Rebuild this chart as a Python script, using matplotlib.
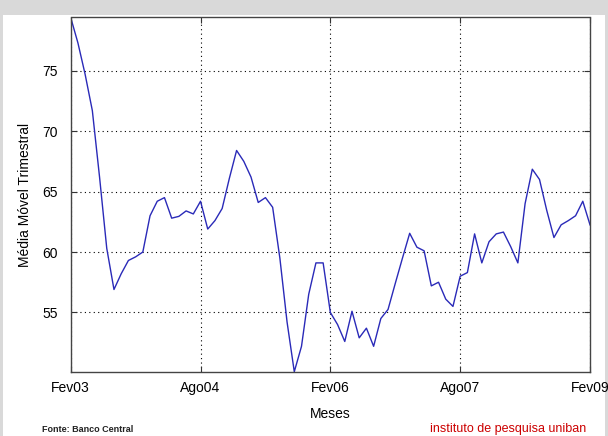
import matplotlib
matplotlib.use("Agg")
import matplotlib.pyplot as plt
from matplotlib.patches import Rectangle
from matplotlib import font_manager

months = list(range(73))  # Fev03 .. Fev09, monthly
values = [79.4, 77.3, 74.7, 71.7, 66.2, 60.3, 56.9, 58.2, 59.3, 59.6,
          60.0, 63.0, 64.2, 64.5, 62.8, 62.95, 63.4, 63.15, 64.2, 61.9,
          62.6, 63.6, 66.1, 68.4, 67.5, 66.2, 64.1, 64.5, 63.7, 59.5,
          54.2, 50.1, 52.2, 56.5, 59.1, 59.1, 55.0, 54.0, 52.6, 55.1,
          52.9, 53.7, 52.2, 54.5, 55.25, 57.4, 59.5, 61.55, 60.4, 60.1,
          57.2, 57.5, 56.1, 55.5, 58.0, 58.3, 61.5, 59.1, 60.85, 61.5,
          61.65, 60.45, 59.1, 64.0, 66.85, 66.0, 63.45, 61.2, 62.25, 62.6,
          63.0, 64.2, 62.25]
xtick_pos = [0, 18, 36, 54, 72]
xtick_labels = ["Fev03", "Ago04", "Fev06", "Ago07", "Fev09"]
ytick_pos = [55, 60, 65, 70, 75]

names = {f.name for f in font_manager.fontManager.ttflist}
fam = ["Liberation Sans Narrow", "Liberation Sans", "DejaVu Sans"] if "Liberation Sans Narrow" in names else ["Liberation Sans", "DejaVu Sans"]
plt.rcParams["font.family"] = fam

fig = plt.figure(figsize=(6.08, 4.36), dpi=100)
fig.patch.set_facecolor("#d9d9d9")
bg = Rectangle((3/608, 0), 1 - 6/608, 1 - 15/436, transform=fig.transFigure,
               facecolor="white", edgecolor="none", zorder=-10)
fig.patches.append(bg)

ax = fig.add_axes([70.7/608, 1 - 371.7/436, (590 - 70.7)/608, (371.7 - 17.5)/436])
ax.set_zorder(1)
ax.set_facecolor("white")
ax.plot(months, values, color="#2a2ab8", linewidth=1.0)
ax.set_xlim(0, 72)
ax.set_ylim(min(values), max(values))
ax.set_xticks(xtick_pos)
ax.set_xticklabels(xtick_labels)
ax.set_yticks(ytick_pos)
ax.grid(True, linestyle=(0, (1, 3)), color="black", linewidth=0.8)
ax.tick_params(direction="in", length=4, top=True, right=True, labelsize=10,
               color="#333333", width=0.8)
ax.tick_params(axis="x", pad=7)
ax.tick_params(axis="y", pad=9)
for s in ax.spines.values():
    s.set_color("#444444")
    s.set_linewidth(1.0)

ax.set_ylabel("Média Móvel Trimestral", fontsize=10, labelpad=8)
ax.set_xlabel("Meses", fontsize=10, labelpad=8)

fig.text(42/608, 1 - 429/436, "Fonte: Banco Central", fontsize=6.5, fontweight="bold",
         color="#222222", va="center", ha="left")
fig.text(430/608, 1 - 429/436, "instituto de pesquisa uniban", fontsize=9,
         color="#cc0000", va="center", ha="left")

fig.savefig("out.png", dpi=100, facecolor=fig.get_facecolor())
